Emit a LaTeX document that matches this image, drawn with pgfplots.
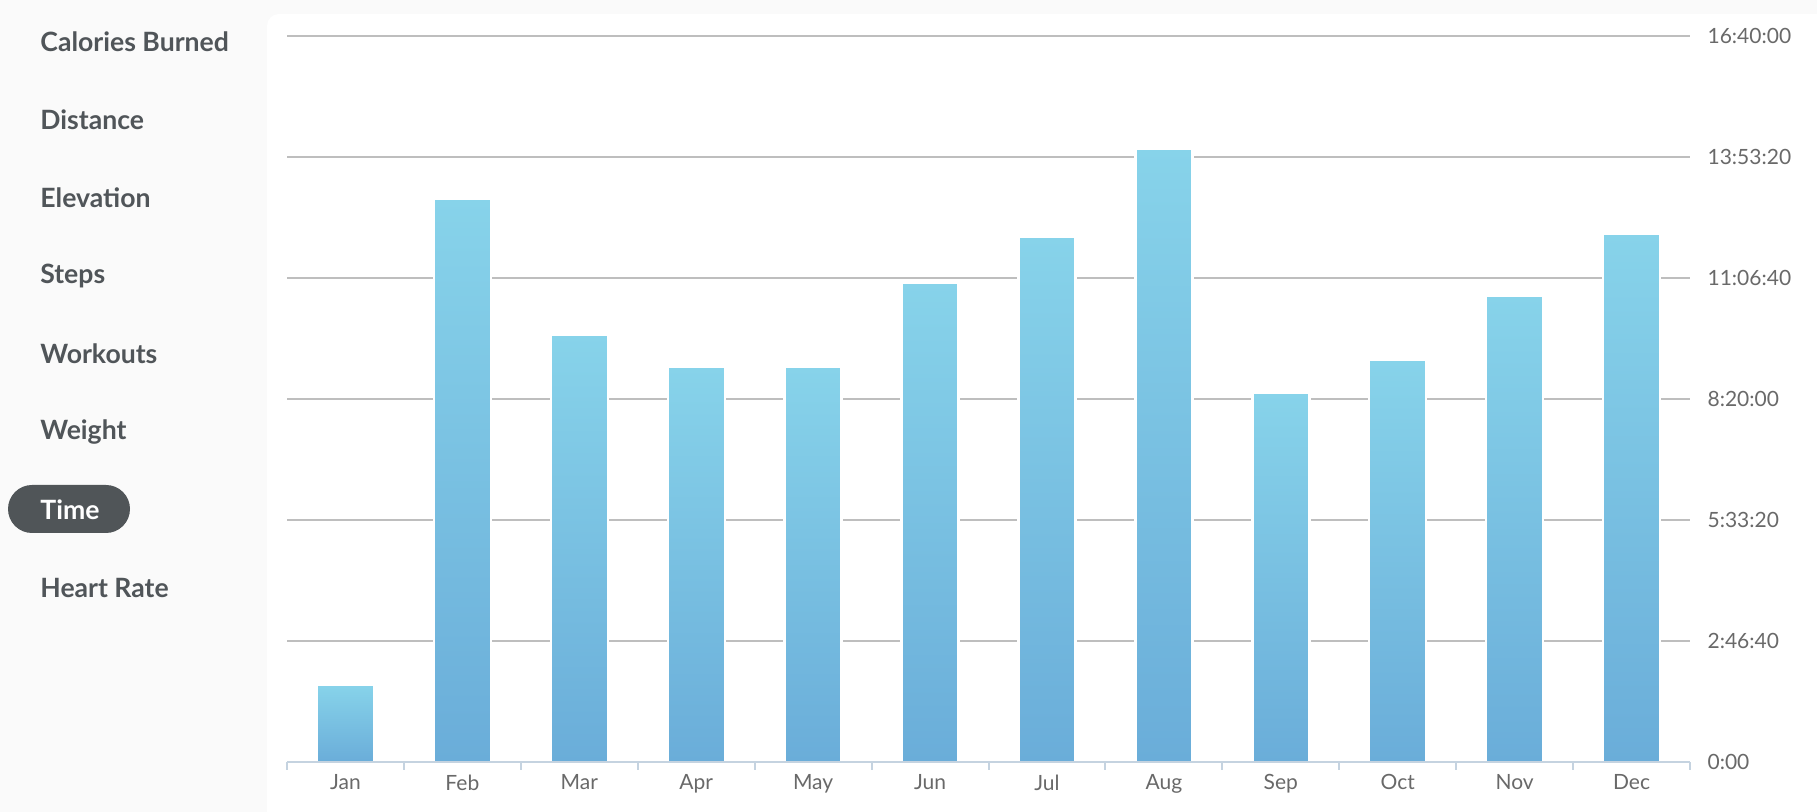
\documentclass[border=0pt]{standalone}
\usepackage{pgfplots}
\pgfplotsset{compat=1.18}
\usepackage{fontspec}
\setmainfont{Lato}
\definecolor{bgout}{RGB}{250,250,250}
\definecolor{bartop}{RGB}{135,211,234}
\definecolor{barbot}{RGB}{106,173,217}
\definecolor{gridc}{RGB}{190,190,190}
\definecolor{axisc}{RGB}{197,211,224}
\definecolor{menuc}{RGB}{80,85,89}
\definecolor{pillc}{RGB}{80,85,88}
\definecolor{tickc}{RGB}{105,105,105}
\pgfplotsset{mybar/.style={ybar, bar width=28.5pt, bar shift=0pt, draw=white, line width=1.2pt,
  top color=bartop, bottom color=barbot}}
\begin{document}
\begin{tikzpicture}
% 1px = 0.5pt; picture 1817x812 px
\path[use as bounding box] (0,0) rectangle (908.5pt,406pt);
\fill[bgout] (0,0) rectangle (908.5pt,406pt);
\fill[white, rounded corners=6pt] (133.5pt,-10pt) rectangle (920pt,399pt);
% menu
\fill[pillc, rounded corners=12pt] (4pt,139.5pt) rectangle (65pt,163.5pt);
\begin{scope}[every node/.style={anchor=west, inner sep=0pt, font=\fontsize{13.3}{15}\selectfont\bfseries, text=menuc}]
\node at (20pt,385pt) {Calories Burned};
\node at (20pt,346pt) {Distance};
\node at (20pt,307pt) {Elevation};
\node at (20pt,268pt) {Steps};
\node at (20pt,229pt) {Workouts};
\node at (20pt,190pt) {Weight};
\node[text=white] at (20pt,151pt) {Time};
\node at (20pt,112pt) {Heart Rate};
\end{scope}
\begin{axis}[
  at={(143.5pt,25pt)}, anchor=south west,
  scale only axis, width=701.5pt, height=363pt,
  xmin=-0.5, xmax=11.5, ymin=0, ymax=60000,
  axis x line*=bottom, axis y line*=right,
  x axis line style={draw=none},
  y axis line style={draw=none},
  xtick={0,...,11},
  xticklabels={Jan,Feb,Mar,Apr,May,Jun,Jul,Aug,Sep,Oct,Nov,Dec},
  major x tick style={draw=none},
  minor xtick={-0.5,0.5,...,11.5},
  minor x tick style={axisc, line width=1pt},
  minor tick length=4pt,
  tick align=outside,
  scaled y ticks=false,
  ytick={0,10000,20000,30000,40000,50000,60000},
  yticklabels={0:00,2:46:40,5:33:20,8:20:00,11:06:40,13:53:20,16:40:00},
  major y tick style={draw=none},
  ymajorgrids,
  major grid style={gridc, line width=1pt},
  /pgf/number format/assume math mode=true,
  ticklabel style={font=\fontsize{10.5}{12}\selectfont, text=tickc},
  yticklabel style={anchor=west, xshift=1pt},
  xticklabel style={yshift=1.5pt},
  clip=false,
]
\addplot[mybar] coordinates {(0,6364)};
\addplot[mybar] coordinates {(1,46530)};
\addplot[mybar] coordinates {(2,35311)};
\addplot[mybar] coordinates {(3,32632)};
\addplot[mybar] coordinates {(4,32632)};
\addplot[mybar] coordinates {(5,39617)};
\addplot[mybar] coordinates {(6,43445)};
\addplot[mybar] coordinates {(7,50718)};
\addplot[mybar] coordinates {(8,30526)};
\addplot[mybar] coordinates {(9,33206)};
\addplot[mybar] coordinates {(10,38565)};
\addplot[mybar] coordinates {(11,43636)};
\draw[axisc, line width=1.3pt] (axis cs:-0.5,0) -- (axis cs:11.5,0);
\end{axis}
\end{tikzpicture}
\end{document}
